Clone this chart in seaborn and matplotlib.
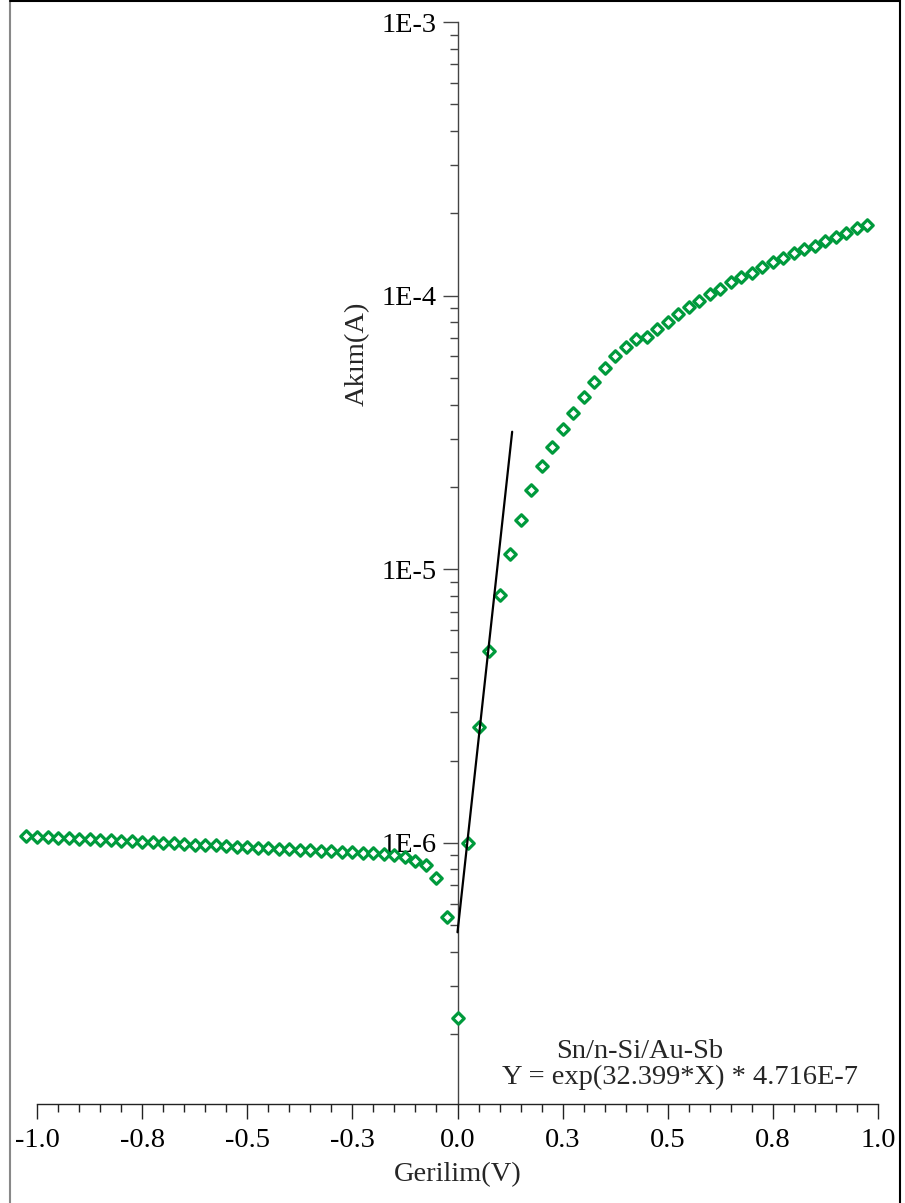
import numpy as np
import pandas as pd
import matplotlib
matplotlib.use("Agg")
import matplotlib.pyplot as plt
from matplotlib.lines import Line2D
from matplotlib.ticker import FixedLocator, LogLocator, NullFormatter, FixedFormatter
import seaborn as sns

# Applied voltage (V)
voltage = [
    -1.025, -1.000, -0.975, -0.950, -0.925, -0.900, -0.875, -0.850, -0.825, -0.800,
    -0.775, -0.750, -0.725, -0.700, -0.675, -0.650, -0.625, -0.600, -0.575, -0.550,
    -0.525, -0.500, -0.475, -0.450, -0.425, -0.400, -0.375, -0.350, -0.325, -0.300,
    -0.275, -0.250, -0.225, -0.200, -0.175, -0.150, -0.125, -0.100, -0.075, -0.050,
    -0.025, 0.000, 0.025, 0.050, 0.075, 0.100, 0.125, 0.150, 0.175, 0.200,
    0.225, 0.250, 0.275, 0.300, 0.325, 0.350, 0.375, 0.400, 0.425, 0.450,
    0.475, 0.500, 0.525, 0.550, 0.575, 0.600, 0.625, 0.650, 0.675, 0.700,
    0.725, 0.750, 0.775, 0.800, 0.825, 0.850, 0.875, 0.900, 0.925, 0.950,
    0.975,
]

# Measured current (A)
current = [
    1.060e-6, 1.055e-6, 1.050e-6, 1.045e-6, 1.041e-6, 1.036e-6, 1.032e-6, 1.027e-6, 1.022e-6, 1.018e-6,
    1.013e-6, 1.009e-6, 1.004e-6, 1.000e-6, 0.996e-6, 0.991e-6, 0.987e-6, 0.983e-6, 0.979e-6, 0.975e-6,
    0.970e-6, 0.966e-6, 0.962e-6, 0.958e-6, 0.954e-6, 0.950e-6, 0.946e-6, 0.942e-6, 0.938e-6, 0.934e-6,
    0.930e-6, 0.926e-6, 0.922e-6, 0.917e-6, 0.912e-6, 0.905e-6, 0.886e-6, 0.862e-6, 0.831e-6, 0.747e-6,
    0.538e-6, 0.229e-6, 1.000e-6, 2.66e-6, 5.03e-6, 8.06e-6, 1.138e-5, 1.52e-5, 1.95e-5, 2.39e-5,
    2.80e-5, 3.27e-5, 3.73e-5, 4.27e-5, 4.82e-5, 5.45e-5, 6.02e-5, 6.48e-5, 6.93e-5, 7.08e-5,
    7.54e-5, 8.03e-5, 8.55e-5, 9.07e-5, 9.58e-5, 1.012e-4, 1.060e-4, 1.119e-4, 1.167e-4, 1.213e-4,
    1.276e-4, 1.331e-4, 1.369e-4, 1.428e-4, 1.481e-4, 1.519e-4, 1.588e-4, 1.642e-4, 1.690e-4, 1.763e-4,
    1.812e-4,
]

# Exponential fit parameters: I = I0 * exp(a * V), fitted over 0 ... 0.13 V
fit_a = 32.399
fit_i0 = 4.716e-7
fit_range = [0.0, 0.13]

sample_name = "Sn/n-Si/Au-Sb"
fit_label = "Y = exp(32.399*X) * 4.716E-7"

x_ticks = [-1.0, -0.75, -0.5, -0.25, 0.0, 0.25, 0.5, 0.75, 1.0]
x_tick_labels = ["-1.0", "-0.8", "-0.5", "-0.3", "0.0", "0.3", "0.5", "0.8", "1.0"]
y_ticks = [1e-6, 1e-5, 1e-4, 1e-3]
y_tick_labels = ["1E-6", "1E-5", "1E-4", "1E-3"]

GREEN = "#009a3c"
AXIS_GREY = "#444444"

sns.set_theme(style="white")
plt.rcParams["font.family"] = ["Liberation Serif", "DejaVu Serif"]

fig = plt.figure(figsize=(9.05, 12.03), dpi=100)
W, H = 905, 1203
ax = fig.add_axes([37 / W, 1 - 1104 / H, (878 - 37) / W, (1104 - 22) / H])
ax.set_facecolor("white")
ax.set_yscale("log")

df = pd.DataFrame({"V": voltage, "I": current})
sns.scatterplot(data=df, x="V", y="I", ax=ax, marker="D", s=34,
                facecolor="white", edgecolor=GREEN, linewidth=2.3, zorder=3,
                clip_on=False)

# fitted exponential
v_fit = np.linspace(fit_range[0], fit_range[1], 50)
fit_df = pd.DataFrame({"V": v_fit, "I": fit_i0 * np.exp(fit_a * v_fit)})
sns.lineplot(data=fit_df, x="V", y="I", ax=ax, color="black", linewidth=1.6, zorder=4)

ax.set_xlim(-1.0, 1.0)
ax.set_ylim(1.112e-7, 1e-3)

# axes layout: vertical axis through V = 0, horizontal axis at the bottom
for side in ("top", "right"):
    ax.spines[side].set_visible(False)
ax.spines["left"].set_position(("data", 0.0))
ax.spines["left"].set_color(AXIS_GREY)
ax.spines["left"].set_linewidth(1.0)
ax.spines["bottom"].set_color("#222222")
ax.spines["bottom"].set_linewidth(1.0)

ax.xaxis.set_major_locator(FixedLocator(x_ticks))
ax.xaxis.set_major_formatter(FixedFormatter(x_tick_labels))
ax.xaxis.set_minor_locator(FixedLocator(list(np.arange(-1.0, 1.001, 0.05))))
ax.yaxis.set_major_locator(FixedLocator(y_ticks))
ax.yaxis.set_major_formatter(FixedFormatter(y_tick_labels))
ax.yaxis.set_minor_locator(LogLocator(base=10, subs=np.arange(2, 10)))
ax.yaxis.set_minor_formatter(NullFormatter())

ax.tick_params(axis="x", which="major", direction="out", length=11, width=1.0,
               color="#222222", labelsize=20.5, pad=6, labelcolor="black")
ax.tick_params(axis="x", which="minor", direction="out", length=6, width=1.0, color="#222222")
ax.tick_params(axis="y", which="major", direction="out", length=11, width=1.0,
               color=AXIS_GREY, labelsize=20.5, pad=4, labelcolor="black")
ax.tick_params(axis="y", which="minor", direction="out", length=5.5, width=1.0, color=AXIS_GREY)
ax.tick_params(bottom=True, left=True, which="both")
ax.grid(False)

ax.set_xlabel("Gerilim(V)", fontsize=20.5, labelpad=7)
ax.set_ylabel("")
fig.text(357 / W, 1 - 354 / H, "Akım(A)", rotation=90, fontsize=20.5,
         ha="center", va="center")

fig.text(640 / W, 1 - 1052 / H, sample_name, fontsize=20.5, ha="center", va="center")
fig.text(680 / W, 1 - 1077 / H, fit_label, fontsize=20.5, ha="center", va="center")

# outer frame
fig.add_artist(Line2D([10 / W, 10 / W], [0, 1], transform=fig.transFigure,
                      color="#888888", linewidth=1.5))
fig.add_artist(Line2D([10 / W, 900 / W], [1 - 1 / H, 1 - 1 / H], transform=fig.transFigure,
                      color="black", linewidth=1.5))
fig.add_artist(Line2D([900 / W, 900 / W], [0, 1], transform=fig.transFigure,
                      color="black", linewidth=1.5))

fig.savefig("out.png", dpi=100, facecolor="white")
